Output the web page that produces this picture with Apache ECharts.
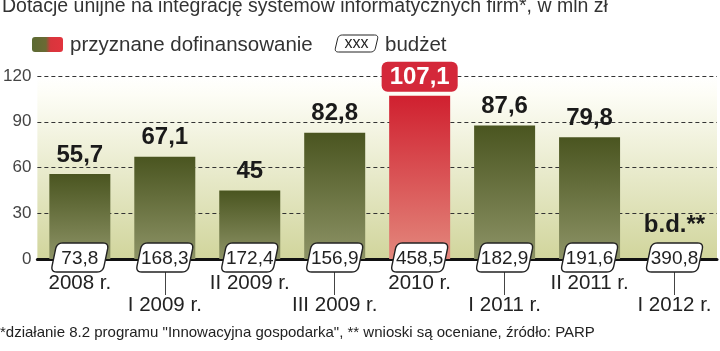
<!DOCTYPE html>
<html><head><meta charset="utf-8">
<script src="https://cdn.jsdelivr.net/npm/echarts@6/dist/echarts.min.js"></script>
<style>html,body{margin:0;padding:0;background:#fff}#c{width:720px;height:351px}</style>
</head><body><div id="c"></div>
<script>
const categories = ['2008 r.','I 2009 r.','II 2009 r.','III 2009 r.','2010 r.','I 2011 r.','II 2011 r.','I 2012 r.'];
const granted = [55.7, 67.1, 45, 82.8, 107.1, 87.6, 79.8, null];
const budget = [73.8, 168.3, 172.4, 156.9, 458.5, 182.9, 191.6, 390.8];
const highlightIndex = 4;
const missingLabel = 'b.d.**';
const yMin = 0, yMax = 120, yInterval = 30;
const titleText = 'Dotacje unijne na integrację systemów informatycznych firm*, w mln zł';
const legendGranted = 'przyznane dofinansowanie';
const legendBudget = 'budżet';
const footerText = '*działanie 8.2 programu "Innowacyjna gospodarka", ** wnioski są oceniane, źródło: PARP';

const FN = '"Liberation Sans", Arial, sans-serif';
const fmt = v => String(v).replace('.', ',');
const lg = (a, b) => ({type:'linear', x:0, y:0, x2:0, y2:1, colorStops:[{offset:0,color:a},{offset:1,color:b}]});
const greenGrad = lg('#4a5520', '#8d9366');
const redGrad = lg('#d0202f', '#e3877c');

// rounded parallelogram outline (leaning like "/") as a point list
function boxPoints(cx, cy, w, h, s, r) {
  const L = cx - w / 2, R = cx + w / 2, T = cy - h / 2, B = cy + h / 2;
  const pts = [[L + s, T], [R + s, T], [R - s, B], [L - s, B]];
  const toward = (a, b, d) => { const dx = b[0] - a[0], dy = b[1] - a[1], l = Math.hypot(dx, dy); return [a[0] + dx * d / l, a[1] + dy * d / l]; };
  const out = [];
  for (let i = 0; i < 4; i++) {
    const p = pts[i], prev = pts[(i + 3) % 4], next = pts[(i + 1) % 4];
    const a = toward(p, prev, r), b = toward(p, next, r);
    for (let k = 0; k <= 6; k++) {
      const t = k / 6, u = 1 - t;
      out.push([u * u * a[0] + 2 * u * t * p[0] + t * t * b[0], u * u * a[1] + 2 * u * t * p[1] + t * t * b[1]]);
    }
  }
  return out;
}

const barData = granted.map((v, i) => {
  if (v === null) {
    return {value: 0, label: {formatter: missingLabel, distance: 22}};
  }
  const item = {value: v, itemStyle: {color: i === highlightIndex ? redGrad : greenGrad}};
  if (i === highlightIndex) {
    item.label = {color: '#fff', backgroundColor: '#d4283a', borderRadius: 6, padding: [3, 8, 1, 8], distance: 4, lineHeight: 26};
  }
  return item;
});

const chart = echarts.init(document.getElementById('c'), null, {renderer: 'canvas'});
chart.setOption({
  animation: false,
  title: {text: titleText, left: 2, top: -3, padding: 0,
    textStyle: {fontFamily: FN, fontSize: 19.5, fontWeight: 'normal', color: '#333'}},
  grid: {left: 33, right: 3, top: 76, bottom: 92, show: true, borderWidth: 0,
    backgroundColor: {type:'linear', x:0, y:0, x2:0, y2:1, colorStops:[
      {offset:0, color:'#ffffff'}, {offset:0.1, color:'#fdfdf6'}, {offset:1, color:'#d1d59c'}]}},
  xAxis: {
    type: 'category', data: categories, z: 1,
    axisLine: {lineStyle: {color: '#111', width: 3}},
    axisTick: {show: true, alignWithLabel: true, interval: (i) => i % 2 === 1, length: 36, lineStyle: {color: '#444', width: 1}},
    axisLabel: {interval: 0, margin: 13, fontFamily: FN, fontSize: 20.5, color: '#222', lineHeight: 22,
      formatter: (v, i) => (i % 2 === 1 ? '\n' + v : v)}
  },
  yAxis: {
    type: 'value', min: yMin, max: yMax, interval: yInterval,
    axisLine: {show: false}, axisTick: {show: false},
    axisLabel: {margin: 6, fontFamily: FN, fontSize: 17, color: '#444'},
    splitLine: {lineStyle: {color: '#333', width: 1, type: [4, 3]}}
  },
  series: [
    {
      type: 'bar', data: barData, barWidth: 61, z: 2,
      itemStyle: {color: greenGrad},
      label: {show: true, position: 'top', distance: 7, fontFamily: FN, fontSize: 24, fontWeight: 'bold', color: '#1a1a1a',
        formatter: p => fmt(p.value)}
    },
    {
      type: 'custom', z: 20,
      data: budget.map((b, i) => [i, 0, b]),
      encode: {x: 0, y: 1},
      renderItem: (params, api) => {
        const p = api.coord([api.value(0), 0]);
        const cx = p[0], cy = p[1] - 1.5;
        return {type: 'group', children: [
          {type: 'polygon', shape: {points: boxPoints(cx, cy, 52, 29, 3, 6)},
            style: {fill: '#fff', stroke: '#222', lineWidth: 1.4}},
          {type: 'text', style: {text: fmt(api.value(2)), x: cx, y: cy + 1, align: 'center', verticalAlign: 'middle',
            fontFamily: FN, fontSize: 19, fill: '#222'}}
        ]};
      }
    }
  ],
  graphic: [
    {type: 'rect', shape: {x: 32, y: 37, width: 31, height: 15, r: 3},
      style: {fill: {type:'linear', x:0, y:0, x2:1, y2:0, colorStops:[
        {offset:0, color:'#5b6a32'}, {offset:0.45, color:'#6b6a34'}, {offset:0.6, color:'#d8353c'}, {offset:1, color:'#e2343e'}]}}},
    {type: 'text', x: 70, y: 45, style: {text: legendGranted, fontFamily: FN, fontSize: 20.5, fill: '#333', verticalAlign: 'middle'}},
    {type: 'polygon', shape: {points: boxPoints(356.5, 43.5, 40, 17, 2, 4)},
      style: {fill: '#fff', stroke: '#222', lineWidth: 1}},
    {type: 'text', x: 356.5, y: 44, style: {text: 'xxx', fontFamily: FN, fontSize: 16, fill: '#222', align: 'center', verticalAlign: 'middle'}},
    {type: 'text', x: 385, y: 45, style: {text: legendBudget, fontFamily: FN, fontSize: 20.5, fill: '#333', verticalAlign: 'middle'}},
    {type: 'text', x: 0, y: 333, style: {text: footerText, fontFamily: FN, fontSize: 15, fill: '#222', verticalAlign: 'middle'}}
  ]
});
</script></body></html>
